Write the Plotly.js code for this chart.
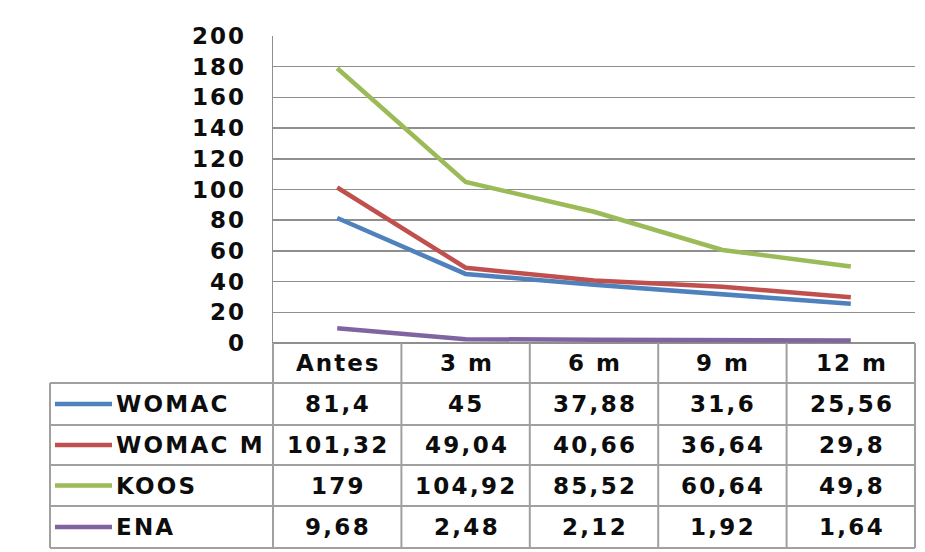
<!DOCTYPE html>
<html>
<head>
<meta charset="utf-8">
<script src="https://cdn.plot.ly/plotly-3.0.1.min.js"></script>
<style>
html,body{margin:0;padding:0;background:#fff;}
#chart{width:925px;height:552px;}
</style>
</head>
<body>
<div id="chart"></div>
<script>
// ---- data ----
var categories = ["Antes", "3 m", "6 m", "9 m", "12 m"];
var seriesNames = ["WOMAC", "WOMAC M", "KOOS", "ENA"];
var womac  = [81.4, 45, 37.88, 31.6, 25.56];
var womacM = [101.32, 49.04, 40.66, 36.64, 29.8];
var koos   = [179, 104.92, 85.52, 60.64, 49.8];
var ena    = [9.68, 2.48, 2.12, 1.92, 1.64];
var yTicks = [0, 20, 40, 60, 80, 100, 120, 140, 160, 180, 200];

// ---- styling ----
var colors = ["#4F81BD", "#C0504D", "#9BBB59", "#8064A2"];
var allSeries = [womac, womacM, koos, ena];
var W = 925, H = 552;
var L = 273, R = 915, T = 36, B = 343;
var gridCol = "#8f8f8f", tableCol = "#a0a0a0";
var fontFam = "DejaVu Sans, Verdana, sans-serif";
var textCol = "#0d0d0d";

function px(x){ return (x - L) / (R - L); }
function py(y){ return (B - y) / (B - T); }
function wide(s, sp){ return '<span style="letter-spacing:' + sp + 'px">' + s + '</span>'; }

var traces = allSeries.map(function(vals, i){
  return {
    type: "scatter", mode: "lines",
    x: categories, y: vals, name: seriesNames[i],
    line: {color: colors[i], width: 4.5},
    hoverinfo: "skip", cliponaxis: false
  };
});

// table geometry (pixels)
var rowLines = [383, 425, 465, 506, 548];
var headerMid = (B + rowLines[0]) / 2;
var colW = (R - L) / categories.length;
var tableLeft = 50;

function fmt(v){ return String(v).replace(".", ","); }

var shapes = [], annotations = [];
var tFont = {family:fontFam, size:23, color:textCol, weight:"bold"};
// horizontal lines
rowLines.forEach(function(y){
  shapes.push({type:"line", xref:"paper", yref:"paper", x0:px(tableLeft), x1:px(R), y0:py(y), y1:py(y),
    line:{color:tableCol, width:2}});
});
// vertical lines in data area
for (var c = 0; c <= categories.length; c++){
  var xx = L + c * colW;
  shapes.push({type:"line", xref:"paper", yref:"paper", x0:px(xx), x1:px(xx), y0:py(B), y1:py(rowLines[rowLines.length-1]),
    line:{color:tableCol, width:2}});
}
// left border
shapes.push({type:"line", xref:"paper", yref:"paper", x0:px(tableLeft), x1:px(tableLeft), y0:py(rowLines[0]), y1:py(rowLines[rowLines.length-1]),
  line:{color:tableCol, width:2}});

// header labels
categories.forEach(function(cat, c){
  annotations.push({xref:"paper", yref:"paper", x:px(L + (c + 0.5) * colW + 1), y:py(headerMid),
    text:wide(cat, 2), showarrow:false, xanchor:"center", yanchor:"middle", font:tFont});
});
// rows
allSeries.forEach(function(vals, i){
  var mid = (rowLines[i] + rowLines[i+1]) / 2;
  shapes.push({type:"line", xref:"paper", yref:"paper", x0:px(55), x1:px(112), y0:py(mid), y1:py(mid),
    line:{color:colors[i], width:4.5}});
  annotations.push({xref:"paper", yref:"paper", x:px(114), y:py(mid), text:wide(seriesNames[i], 2.2),
    showarrow:false, xanchor:"left", yanchor:"middle", font:tFont});
  vals.forEach(function(v, c){
    annotations.push({xref:"paper", yref:"paper", x:px(L + (c + 0.5) * colW + 1), y:py(mid),
      text:wide(fmt(v), 2.3), showarrow:false, xanchor:"center", yanchor:"middle", font:tFont});
  });
});

var layout = {
  width: W, height: H,
  margin: {l: L, r: W - R, t: T, b: H - B, pad: 0},
  paper_bgcolor: "#ffffff", plot_bgcolor: "#ffffff",
  showlegend: false,
  xaxis: {type:"category", range:[-0.5, categories.length - 0.5], showticklabels:false,
    showgrid:false, zeroline:false, showline:false, ticks:""},
  yaxis: {range:[0, 200], tickvals: yTicks, ticktext: yTicks.map(function(t){ return wide(String(t), 2); }),
    showgrid:true, gridcolor:gridCol, gridwidth:1.5, zeroline:true, zerolinecolor:gridCol, zerolinewidth:2,
    showline:true, linecolor:gridCol, linewidth:1.5, ticks:"", ticklabelstandoff:21,
    tickfont:{family:fontFam, size:23, color:textCol, weight:"bold"}},
  shapes: shapes,
  annotations: annotations
};

Plotly.newPlot("chart", traces, layout, {staticPlot:true, displayModeBar:false});
</script>
</body>
</html>
